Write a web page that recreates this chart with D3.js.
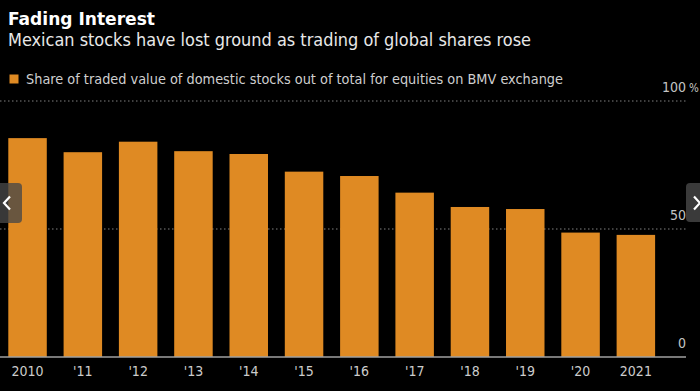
<!DOCTYPE html>
<html>
<head>
<meta charset="utf-8">
<script src="https://cdn.jsdelivr.net/npm/d3@7"></script>
<style>
  html, body { margin: 0; padding: 0; background: #000; }
  svg { display: block; }
  text { font-family: "DejaVu Sans Condensed", "DejaVu Sans", sans-serif; }
</style>
</head>
<body>
<svg id="chart" width="700" height="391"></svg>
<script>
const years = ["2010","2011","2012","2013","2014","2015","2016","2017","2018","2019","2020","2021"];
const tickLabels = ["2010","'11","'12","'13","'14","'15","'16","'17","'18","'19","'20","2021"];
const shareValues = [85.5, 80.0, 84.1, 80.4, 79.3, 72.4, 70.7, 64.2, 58.6, 57.8, 48.6, 47.7];
const yTicks = [0, 50, 100];
const titleText = "Fading Interest";
const subtitleText = "Mexican stocks have lost ground as trading of global shares rose";
const legendText = "Share of traded value of domestic stocks out of total for equities on BMV exchange";

const svg = d3.select("#chart");
svg.append("rect").attr("width", 700).attr("height", 391).attr("fill", "#000");

// Titles
svg.append("text").attr("x", 8).attr("y", 25)
  .attr("font-size", 17.5).attr("font-weight", "bold").attr("fill", "#ffffff")
  .attr("textLength", 147).attr("lengthAdjust", "spacingAndGlyphs")
  .text(titleText);
svg.append("text").attr("x", 8).attr("y", 46)
  .attr("font-size", 17.5).attr("fill", "#e8e8e8")
  .attr("textLength", 523).attr("lengthAdjust", "spacingAndGlyphs")
  .text(subtitleText);

// Legend
svg.append("rect").attr("x", 9.5).attr("y", 74.5).attr("width", 9).attr("height", 9).attr("fill", "#df8a23");
svg.append("text").attr("x", 26).attr("y", 83.5)
  .attr("font-size", 13.5).attr("fill", "#cfcfcf")
  .attr("textLength", 537).attr("lengthAdjust", "spacingAndGlyphs")
  .text(legendText);

// Scales
const x = d3.scaleBand().domain(years).range([0, 663.4]).paddingInner(0.304).paddingOuter(0.15);
const y = d3.scaleLinear().domain([0, 100]).range([357, 101]);

// Gridlines (dotted) for non-zero ticks
svg.append("g").selectAll("line").data(yTicks.filter(d => d !== 0)).join("line")
  .attr("x1", 0).attr("x2", 686)
  .attr("y1", d => y(d)).attr("y2", d => y(d))
  .attr("stroke", "#808080").attr("stroke-width", 1)
  .attr("stroke-dasharray", "1.5,2.5");

// Bars
svg.append("g").selectAll("rect").data(shareValues).join("rect")
  .attr("x", (d, i) => x(years[i]))
  .attr("width", x.bandwidth())
  .attr("y", d => y(d))
  .attr("height", d => y(0) - y(d))
  .attr("fill", "#df8a23");

// Baseline
svg.append("line").attr("x1", 0).attr("x2", 686)
  .attr("y1", y(0)).attr("y2", y(0))
  .attr("stroke", "#a0a0a0").attr("stroke-width", 1.5);

// Y axis labels (right side, above lines)
const yAxis = d3.axisLeft(y).tickValues(yTicks).tickSize(0).tickFormat(d3.format("d"));
const yg = svg.append("g").attr("transform", "translate(686,0)").call(yAxis);
yg.select(".domain").remove();
yg.selectAll("text")
  .attr("x", 0).attr("dy", "-0.7em")
  .attr("text-anchor", "end")
  .attr("font-size", 14).attr("fill", "#c4c4c4")
  .style("font-family", "\"DejaVu Sans Condensed\", \"DejaVu Sans\", sans-serif");
svg.append("text").attr("x", 689).attr("y", y(100) - 9.5)
  .attr("font-size", 11.5).attr("fill", "#c4c4c4").text("%");

// X axis labels
const xAxis = d3.axisBottom(x).tickSize(0).tickFormat((d, i) => tickLabels[i]);
const xg = svg.append("g").attr("transform", `translate(0,${y(0)})`).call(xAxis);
xg.select(".domain").remove();
xg.selectAll("text")
  .attr("y", 9).attr("dy", "0.71em")
  .attr("font-size", 14).attr("fill", "#cccccc")
  .style("font-family", "\"DejaVu Sans Condensed\", \"DejaVu Sans\", sans-serif");

// Slideshow navigation overlays
svg.append("rect").attr("x", -5).attr("y", 183).attr("width", 27).attr("height", 40).attr("rx", 4)
  .attr("fill", "rgba(72,72,72,0.78)");
svg.append("path").attr("d", "M10,196.5 L4,203 L10,209.5")
  .attr("fill", "none").attr("stroke", "#ffffff").attr("stroke-width", 2.2);
svg.append("rect").attr("x", 686).attr("y", 183).attr("width", 20).attr("height", 39).attr("rx", 4)
  .attr("fill", "#3a3a3a");
svg.append("path").attr("d", "M694,196.5 L700,203 L694,209.5")
  .attr("fill", "none").attr("stroke", "#ffffff").attr("stroke-width", 2.2);
</script>
</body>
</html>
